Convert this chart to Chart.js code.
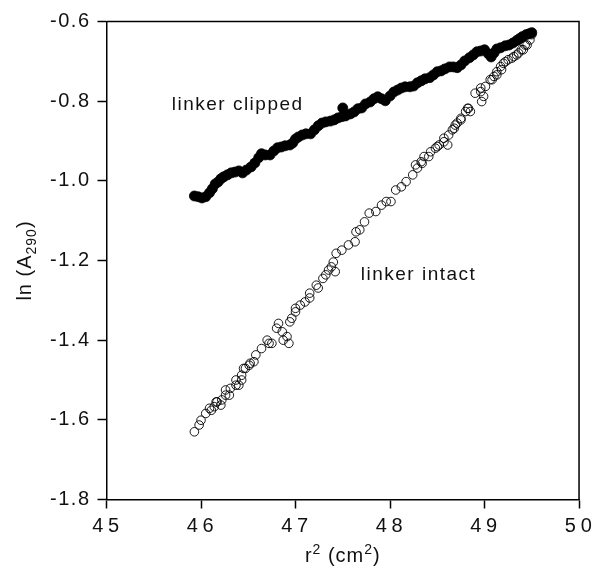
<!DOCTYPE html>
<html>
<head>
<meta charset="utf-8">
<title>ln(A290) vs r2</title>
<script src="https://cdn.jsdelivr.net/npm/chart.js@4.4.0/dist/chart.umd.min.js"></script>
<style>
    html, body { margin: 0; padding: 0; background: #fff; }
    canvas { display: block; }
</style>
</head>
<body>
<canvas id="sedChart" width="597" height="569"></canvas>
<script>
// Axis ranges and ticks
const xTicks = [45, 46, 47, 48, 49, 50];
const yTicks = [-1.8, -1.6, -1.4, -1.2, -1.0, -0.8, -0.6];

// linker clipped (filled circles)
const clippedX = [45.93, 45.97, 46.01, 46.05, 46.09, 46.12, 46.15, 46.18, 46.21, 46.24,
    46.28, 46.32, 46.36, 46.40, 46.44, 46.48, 46.53, 46.57, 46.61, 46.64,
    46.68, 46.73, 46.77, 46.81, 46.85, 46.89, 46.94, 46.97, 47.00, 47.03,
    47.07, 47.11, 47.16, 47.20, 47.24, 47.28, 47.32, 47.37, 47.41, 47.45,
    47.49, 47.50, 47.53, 47.58, 47.62, 47.66, 47.70, 47.74, 47.79, 47.83,
    47.87, 47.91, 47.95, 48.00, 48.04, 48.08, 48.12, 48.16, 48.21, 48.25,
    48.29, 48.33, 48.37, 48.42, 48.46, 48.50, 48.54, 48.58, 48.63, 48.67,
    48.71, 48.75, 48.79, 48.84, 48.88, 48.92, 48.96, 49.00, 49.04, 49.07,
    49.10, 49.13, 49.17, 49.22, 49.26, 49.30, 49.34, 49.37, 49.40, 49.44,
    49.47, 49.50];
const clippedY = [-1.038, -1.040, -1.043, -1.040, -1.030, -1.020, -1.008, -1.003, -0.995, -0.990,
    -0.985, -0.980, -0.978, -0.975, -0.980, -0.973, -0.965, -0.955, -0.942, -0.932,
    -0.935, -0.935, -0.925, -0.917, -0.915, -0.912, -0.910, -0.905, -0.895, -0.890,
    -0.885, -0.882, -0.882, -0.872, -0.862, -0.855, -0.852, -0.850, -0.847, -0.842,
    -0.839, -0.817, -0.837, -0.832, -0.827, -0.819, -0.817, -0.807, -0.802, -0.794,
    -0.789, -0.794, -0.799, -0.787, -0.777, -0.772, -0.767, -0.764, -0.764, -0.762,
    -0.754, -0.749, -0.744, -0.741, -0.734, -0.726, -0.724, -0.719, -0.714, -0.714,
    -0.716, -0.709, -0.699, -0.691, -0.684, -0.676, -0.674, -0.671, -0.681, -0.689,
    -0.679, -0.669, -0.666, -0.661, -0.659, -0.654, -0.648, -0.643, -0.638, -0.633,
    -0.631, -0.628];

// linker intact (open circles)
const intactX = [45.93, 45.98, 46.00, 46.05, 46.09, 46.11, 46.14, 46.16, 46.17, 46.21,
    46.22, 46.26, 46.26, 46.30, 46.31, 46.37, 46.37, 46.40, 46.43, 46.43,
    46.45, 46.47, 46.51, 46.52, 46.56, 46.58, 46.64, 46.70, 46.72, 46.75,
    46.80, 46.82, 46.86, 46.87, 46.91, 46.93, 46.94, 46.96, 47.00, 47.00,
    47.05, 47.10, 47.15, 47.15, 47.22, 47.24, 47.29, 47.32, 47.35, 47.38,
    47.40, 47.42, 47.43, 47.49, 47.56, 47.63, 47.64, 47.68, 47.73, 47.78,
    47.85, 47.91, 47.96, 48.01, 48.06, 48.12, 48.17, 48.24, 48.27, 48.29,
    48.33, 48.34, 48.36, 48.41, 48.43, 48.48, 48.50, 48.52, 48.57, 48.57,
    48.61, 48.62, 48.66, 48.68, 48.69, 48.71, 48.75, 48.75, 48.80, 48.82,
    48.83, 48.85, 48.90, 48.96, 48.96, 48.97, 48.99, 49.01, 49.06, 49.08,
    49.10, 49.13, 49.13, 49.17, 49.18, 49.20, 49.22, 49.25, 49.29, 49.31,
    49.34, 49.36, 49.39, 49.41, 49.43, 49.45, 49.48, 49.50];
const intactY = [-1.630, -1.613, -1.601, -1.584, -1.571, -1.576, -1.567, -1.555, -1.555, -1.563,
    -1.550, -1.538, -1.525, -1.538, -1.521, -1.513, -1.500, -1.513, -1.488, -1.500,
    -1.471, -1.471, -1.463, -1.458, -1.454, -1.437, -1.421, -1.400, -1.408, -1.408,
    -1.370, -1.358, -1.379, -1.400, -1.391, -1.408, -1.354, -1.345, -1.329, -1.320,
    -1.312, -1.304, -1.282, -1.294, -1.262, -1.269, -1.245, -1.236, -1.224, -1.216,
    -1.204, -1.228, -1.182, -1.174, -1.161, -1.153, -1.128, -1.123, -1.103, -1.081,
    -1.077, -1.061, -1.052, -1.052, -1.023, -1.015, -1.002, -0.985, -0.960, -0.968,
    -0.952, -0.956, -0.939, -0.939, -0.927, -0.918, -0.914, -0.910, -0.902, -0.893,
    -0.910, -0.885, -0.872, -0.868, -0.860, -0.855, -0.847, -0.843, -0.826, -0.818,
    -0.818, -0.826, -0.780, -0.776, -0.767, -0.801, -0.788, -0.763, -0.746, -0.746,
    -0.738, -0.734, -0.726, -0.713, -0.721, -0.705, -0.701, -0.696, -0.692, -0.688,
    -0.684, -0.679, -0.671, -0.671, -0.659, -0.659, -0.646, -0.633];

// Text labels placed in data units (left edge, vertical middle)
const labelClipped = { text: 'linker clipped', x: 45.69, y: -0.809 };
const labelIntact = { text: 'linker intact', x: 47.69, y: -1.236 };

const FONT = '"Liberation Sans", Arial, Helvetica, sans-serif';
const INK = '#111';

function toPoints(xs, ys) {
    return xs.map((x, i) => ({ x: x, y: ys[i] }));
}

// draws a run of text pieces with sub/superscripts, starting at x (or centred)
function drawRich(ctx, parts, x, y, centred) {
    let total = 0;
    parts.forEach(p => {
        ctx.font = p.size + 'px ' + FONT;
        p.w = ctx.measureText(p.t).width;
        total += p.w;
    });
    let cx = centred ? x - total / 2 : x;
    parts.forEach(p => {
        ctx.font = p.size + 'px ' + FONT;
        ctx.fillText(p.t, cx, y + (p.dy || 0));
        cx += p.w;
    });
}

const spacingPlugin = {
    id: 'spacing',
    beforeDraw(chart) {
        chart.ctx.letterSpacing = '1.5px';
    }
};

const framePlugin = {
    id: 'frame',
    afterDraw(chart) {
        const ctx = chart.ctx;
        const a = chart.chartArea;
        const xs = chart.scales.x;
        const ys = chart.scales.y;

        ctx.save();
        // top and right edges of the box
        ctx.strokeStyle = '#000';
        ctx.lineWidth = 1.5;
        ctx.beginPath();
        ctx.moveTo(a.left, a.top);
        ctx.lineTo(a.right, a.top);
        ctx.lineTo(a.right, a.bottom);
        ctx.stroke();

        ctx.fillStyle = INK;
        ctx.letterSpacing = '1.5px';
        ctx.textBaseline = 'middle';
        ctx.textAlign = 'left';
        ctx.font = '19px ' + FONT;
        [labelClipped, labelIntact].forEach(l => {
            ctx.fillText(l.text, xs.getPixelForValue(l.x), ys.getPixelForValue(l.y));
        });

        // x axis title: r2 (cm2)
        ctx.textBaseline = 'alphabetic';
        ctx.letterSpacing = '1px';
        drawRich(ctx, [
            { t: 'r', size: 20 },
            { t: '2', size: 14, dy: -8 },
            { t: ' (cm', size: 20 },
            { t: '2', size: 14, dy: -8 },
            { t: ')', size: 20 }
        ], (a.left + a.right) / 2, 562, true);

        // y axis title: ln (A290)
        ctx.translate(31, (a.top + a.bottom) / 2);
        ctx.rotate(-Math.PI / 2);
        drawRich(ctx, [
            { t: 'ln (A', size: 20 },
            { t: '290', size: 14, dy: 5 },
            { t: ')', size: 20 }
        ], 0, 0, true);
        ctx.restore();
    }
};

const ctx = document.getElementById('sedChart');

new Chart(ctx, {
    type: 'scatter',
    data: {
        datasets: [{
            label: 'linker clipped',
            data: toPoints(clippedX, clippedY),
            pointStyle: 'circle',
            pointRadius: 5,
            backgroundColor: '#000',
            borderColor: '#000',
            borderWidth: 0.8
        }, {
            label: 'linker intact',
            data: toPoints(intactX, intactY),
            pointStyle: 'circle',
            pointRadius: 4.3,
            backgroundColor: 'rgba(0,0,0,0)',
            borderColor: '#000',
            borderWidth: 0.9
        }]
    },
    options: {
        responsive: false,
        animation: false,
        events: [],
        layout: {
            padding: { top: 21.5, right: 14, bottom: 0, left: 0 }
        },
        plugins: {
            legend: { display: false },
            tooltip: { enabled: false }
        },
        scales: {
            x: {
                type: 'linear',
                min: xTicks[0],
                max: xTicks[xTicks.length - 1],
                afterFit: function(scale) { scale.height = 69.5; },
                afterBuildTicks: function(scale) {
                    scale.ticks = xTicks.map(v => ({ value: v }));
                },
                border: { display: true, color: '#000', width: 1.5 },
                grid: {
                    drawOnChartArea: false,
                    drawTicks: true,
                    tickLength: 9,
                    tickWidth: 1.5,
                    tickColor: '#000'
                },
                ticks: {
                    color: INK,
                    padding: 6,
                    font: { family: FONT, size: 20 },
                    maxRotation: 0,
                    callback: v => String(v).split('').join('\u200A')
                }
            },
            y: {
                type: 'linear',
                min: yTicks[0],
                max: yTicks[yTicks.length - 1],
                afterFit: function(scale) { scale.width = 106.5; },
                afterBuildTicks: function(scale) {
                    scale.ticks = yTicks.map(v => ({ value: v }));
                },
                border: { display: true, color: '#000', width: 1.5 },
                grid: {
                    drawOnChartArea: false,
                    drawTicks: true,
                    tickLength: 9,
                    tickWidth: 1.5,
                    tickColor: '#000'
                },
                ticks: {
                    color: INK,
                    padding: 7,
                    font: { family: FONT, size: 20 },
                    callback: v => v.toFixed(1)
                }
            }
        }
    },
    plugins: [spacingPlugin, framePlugin]
});
</script>
</body>
</html>
